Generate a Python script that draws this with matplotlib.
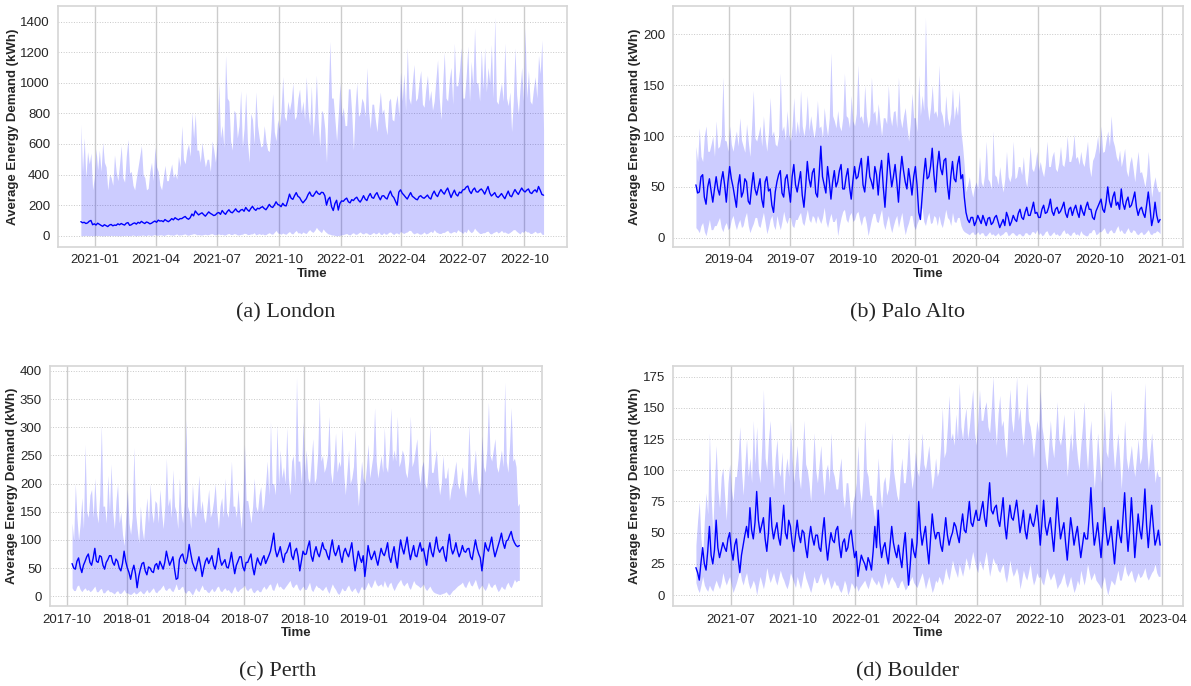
import matplotlib
matplotlib.use("Agg")
import matplotlib.pyplot as plt
import matplotlib.dates as mdates
import numpy as np
import pandas as pd
import seaborn as sns

# values, one sample every 2.5 days (one row ~ one month)
london_start = "2020-12-11"
london_mean = [92, 85, 88, 80, 84, 95, 100, 72, 78, 70, 82, 75,
               68, 62, 72, 66, 60, 70, 74, 65, 70, 68, 78, 72,
               80, 74, 70, 82, 86, 68, 72, 80, 84, 76, 88, 82,
               94, 86, 80, 90, 86, 78, 82, 90, 96, 88, 102, 96,
               98, 92, 106, 98, 92, 100, 112, 104, 118, 110, 104, 112,
               112, 120, 126, 114, 108, 118, 142, 130, 162, 148, 136, 144,
               150, 138, 128, 142, 156, 146, 140, 132, 136, 148, 152, 140,
               165, 150, 140, 158, 170, 155, 150, 162, 176, 160, 155, 168,
               172, 160, 185, 170, 160, 178, 192, 175, 166, 180, 176, 185,
               190, 178, 170, 186, 205, 190, 185, 200, 222, 205, 200, 190,
               212, 198, 195, 230, 272, 245, 238, 262, 282, 258, 250, 230,
               215, 228, 242, 268, 286, 262, 258, 275, 292, 276, 270, 284,
               282, 262, 200, 238, 252, 190, 165, 210, 232, 168, 212, 228,
               225, 238, 246, 222, 215, 236, 230, 244, 252, 232, 220, 238,
               262, 240, 230, 258, 276, 250, 245, 268, 282, 255, 235, 260,
               262, 248, 240, 270, 292, 262, 250, 225, 200, 285, 300, 278,
               266, 252, 240, 262, 282, 258, 250, 240, 235, 255, 262, 250,
               245, 255, 266, 248, 240, 272, 292, 268, 256, 282, 302, 285,
               272, 295, 312, 280, 250, 276, 298, 270, 260, 285, 280, 300,
               302, 318, 325, 292, 276, 300, 312, 288, 285, 298, 306, 292,
               272, 298, 322, 280, 260, 270, 282, 258, 250, 262, 276, 258,
               242, 268, 292, 262, 255, 280, 302, 284, 270, 292, 312, 295,
               286, 298, 306, 282, 276, 292, 300, 285, 322, 298, 270, 265]
london_high = [730, 420, 640, 380, 550, 470, 540, 300, 380, 570, 430, 560,
               420, 610, 480, 450, 300, 400, 380, 330, 530, 420, 360, 470,
               590, 380, 350, 520, 630, 410, 420, 330, 300, 380, 450, 520,
               590, 400, 380, 300, 310, 420, 480, 360, 580, 450, 420, 330,
               300, 380, 460, 360, 360, 420, 470, 380, 410, 370, 520, 450,
               720, 500, 470, 560, 600, 520, 810, 640, 800, 560, 560, 480,
               610, 520, 450, 500, 500, 420, 620, 560, 480, 620, 1000, 640,
               720, 580, 1180, 900, 880, 620, 560, 820, 800, 640, 720, 950,
               580, 700, 940, 620, 480, 800, 760, 600, 940, 720, 640, 580,
               590, 720, 620, 560, 550, 700, 930, 680, 620, 760, 700, 820,
               1040, 780, 750, 880, 820, 880, 1000, 760, 780, 900, 960, 800,
               880, 760, 1040, 820, 720, 980, 650, 800, 1050, 760, 580, 820,
               800, 700, 480, 880, 1270, 900, 900, 760, 620, 800, 1000, 780,
               840, 720, 720, 960, 960, 800, 560, 840, 1000, 780, 800, 900,
               870, 780, 1100, 820, 700, 860, 860, 760, 680, 820, 940, 800,
               830, 720, 660, 880, 900, 760, 750, 860, 920, 780, 1070, 880,
               1060, 820, 1230, 900, 860, 1000, 1120, 880, 900, 1000, 1080, 860,
               840, 960, 1050, 880, 950, 820, 880, 1020, 1150, 900, 760, 980,
               1200, 900, 880, 1020, 1100, 860, 1260, 980, 980, 1080, 1230, 900,
               900, 1040, 1240, 880, 1140, 980, 1360, 1000, 1000, 880, 1220, 960,
               1230, 940, 1100, 1000, 1250, 900, 1430, 880, 860, 940, 1000, 880,
               1260, 900, 850, 940, 680, 880, 1230, 920, 800, 960, 1100, 880,
               1360, 900, 1080, 880, 860, 960, 1040, 900, 1180, 1060, 1280, 690]
london_low = [2, 0, 1, 3, 0, 1, 2, 0, 0, 3, 1, 2,
              1, 0, 0, 2, 1, 0, 3, 0, 2, 1, 0, 1,
              0, 2, 1, 3, 0, 1, 2, 5, 1, 0, 3, 2,
              3, 5, 1, 2, 6, 3, 2, 5, 8, 3, 4, 6,
              6, 2, 4, 8, 10, 5, 6, 3, 8, 12, 4, 6,
              6, 10, 12, 5, 4, 8, 10, 14, 12, 6, 8, 5,
              5, 8, 10, 6, 8, 12, 14, 8, 6, 10, 12, 7,
              10, 5, 6, 12, 15, 8, 8, 14, 12, 6, 5, 9,
              10, 16, 15, 8, 8, 12, 12, 20, 6, 10, 14, 8,
              12, 6, 8, 15, 20, 12, 10, 22, 35, 18, 15, 10,
              18, 12, 10, 20, 28, 15, 12, 25, 35, 18, 20, 12,
              25, 18, 15, 30, 40, 28, 22, 35, 55, 40, 30, 20,
              45, 30, 20, 12, 10, 5, 5, 2, 0, 1, 3, 6,
              8, 12, 15, 8, 5, 15, 20, 10, 10, 18, 25, 15,
              12, 20, 18, 10, 8, 15, 22, 12, 15, 25, 10, 8,
              20, 10, 12, 22, 25, 15, 8, 18, 18, 10, 30, 20,
              15, 22, 25, 35, 35, 20, 12, 18, 20, 12, 10, 15,
              25, 12, 15, 22, 30, 20, 40, 25, 20, 15, 15, 22,
              22, 30, 35, 20, 18, 25, 28, 20, 40, 30, 25, 15,
              30, 20, 45, 30, 20, 28, 50, 35, 25, 15, 15, 20,
              20, 28, 30, 15, 12, 20, 25, 30, 18, 25, 35, 22,
              25, 18, 15, 22, 30, 40, 40, 28, 20, 12, 28, 22,
              35, 25, 25, 15, 15, 22, 30, 18, 20, 25, 10, 8]

palo_start = "2019-02-11"
palo_mean = [52, 44, 45, 60, 62, 40, 33, 50, 58, 46, 35, 48,
             60, 48, 42, 56, 65, 52, 35, 55, 70, 58, 50, 40,
             30, 52, 62, 40, 45, 58, 55, 36, 33, 50, 64, 48,
             42, 50, 58, 38, 30, 55, 60, 46, 48, 32, 25, 45,
             55, 62, 66, 44, 40, 58, 62, 48, 35, 60, 72, 52,
             45, 55, 65, 42, 30, 50, 75, 58, 50, 64, 68, 44,
             40, 62, 90, 60, 52, 44, 70, 56, 38, 55, 66, 50,
             55, 66, 72, 48, 48, 60, 68, 50, 38, 56, 70, 58,
             60, 70, 78, 52, 45, 62, 80, 60, 55, 48, 70, 62,
             42, 64, 76, 50, 30, 56, 83, 66, 50, 60, 72, 55,
             35, 62, 80, 66, 55, 48, 68, 56, 42, 60, 70, 52,
             25, 18, 40, 62, 78, 58, 60, 70, 88, 62, 45, 70,
             85, 68, 62, 76, 78, 52, 38, 60, 75, 58, 55, 72,
             80, 58, 62, 40, 25, 18, 15, 20, 20, 12, 16, 22,
             18, 14, 22, 17, 12, 19, 20, 13, 15, 20, 22, 16,
             10, 14, 18, 12, 25, 20, 12, 16, 22, 18, 16, 24,
             28, 20, 18, 25, 30, 22, 22, 28, 35, 24, 25, 20,
             20, 28, 32, 24, 25, 30, 38, 26, 22, 28, 30, 24,
             26, 30, 35, 24, 20, 28, 30, 22, 28, 32, 25, 20,
             32, 26, 22, 30, 35, 28, 28, 20, 18, 26, 30, 34,
             38, 28, 25, 35, 50, 36, 30, 40, 45, 32, 35, 28,
             48, 34, 28, 36, 40, 30, 32, 38, 45, 30, 22, 28,
             30, 24, 20, 32, 45, 30, 12, 20, 35, 22, 15, 18]
palo_high = [90, 75, 108, 80, 75, 100, 110, 85, 85, 92, 100, 80,
             115, 88, 90, 100, 158, 96, 95, 85, 110, 92, 85, 96,
             105, 90, 118, 96, 90, 84, 112, 95, 80, 110, 145, 98,
             95, 102, 110, 90, 120, 98, 85, 104, 138, 100, 105, 92,
             90, 100, 162, 105, 110, 96, 125, 102, 95, 110, 138, 100,
             115, 102, 145, 110, 100, 112, 140, 105, 120, 108, 98, 110,
             135, 108, 110, 98, 128, 112, 100, 118, 182, 120, 115, 108,
             125, 110, 105, 118, 162, 120, 118, 108, 140, 115, 110, 122,
             170, 118, 120, 112, 150, 120, 108, 116, 158, 122, 125, 110,
             132, 115, 100, 118, 118, 112, 150, 120, 110, 124, 125, 108,
             158, 118, 108, 120, 128, 110, 95, 112, 142, 118, 118, 104,
             160, 120, 140, 125, 217, 130, 115, 128, 150, 122, 125, 118,
             170, 125, 120, 108, 140, 118, 110, 122, 148, 116, 130, 120,
             145, 105, 90, 70, 45, 52, 60, 48, 40, 50, 55, 48,
             80, 55, 50, 62, 95, 58, 55, 48, 105, 62, 60, 52,
             70, 55, 45, 58, 85, 60, 55, 62, 95, 58, 60, 70,
             70, 62, 80, 58, 50, 66, 90, 68, 65, 72, 85, 66,
             75, 66, 60, 72, 95, 70, 70, 80, 85, 68, 65, 74,
             90, 72, 70, 80, 100, 75, 75, 82, 102, 78, 80, 72,
             85, 74, 70, 82, 95, 70, 60, 76, 80, 88, 100, 82,
             110, 84, 85, 96, 105, 90, 120, 96, 90, 80, 75, 86,
             70, 78, 88, 66, 60, 74, 80, 68, 55, 72, 85, 64,
             65, 58, 50, 62, 85, 60, 40, 52, 60, 50, 45, 46]
palo_low = [10, 8, 5, 12, 15, 6, 2, 10, 18, 8, 8, 12,
            12, 16, 20, 10, 6, 12, 15, 8, 10, 18, 22, 14,
            8, 14, 18, 10, 12, 20, 25, 12, 5, 10, 14, 20,
            20, 12, 10, 18, 25, 15, 4, 10, 18, 22, 12, 8,
            22, 14, 8, 16, 26, 18, 14, 20, 20, 12, 10, 18,
            18, 22, 25, 15, 12, 20, 28, 18, 15, 22, 20, 14,
            22, 18, 14, 20, 30, 16, 10, 18, 24, 16, 16, 20,
            2, 12, 20, 26, 28, 18, 15, 22, 25, 16, 18, 24,
            26, 18, 12, 20, 22, 14, 2, 10, 18, 24, 24, 16,
            15, 22, 28, 14, 8, 16, 22, 12, 5, 12, 18, 22,
            10, 18, 25, 12, 3, 10, 15, 22, 22, 12, 8, 14,
            18, 24, 30, 16, 12, 20, 25, 14, 15, 22, 20, 12,
            22, 14, 10, 18, 28, 20, 18, 12, 25, 16, 15, 20,
            20, 12, 8, 6, 5, 4, 3, 5, 6, 3, 4, 6,
            3, 5, 5, 2, 2, 4, 6, 3, 4, 2, 3, 5,
            2, 3, 4, 6, 6, 2, 3, 5, 5, 3, 2, 4,
            4, 2, 2, 5, 5, 3, 3, 6, 6, 4, 8, 3,
            5, 2, 3, 6, 7, 3, 2, 4, 6, 3, 4, 2,
            3, 6, 8, 4, 5, 3, 2, 5, 6, 3, 4, 2,
            7, 4, 3, 2, 2, 5, 5, 8, 8, 3, 4, 6,
            6, 8, 10, 5, 4, 7, 8, 5, 5, 9, 12, 6,
            8, 5, 4, 7, 10, 6, 5, 8, 7, 4, 3, 5,
            6, 3, 4, 6, 8, 4, 3, 5, 5, 7, 6, 4]

perth_start = "2017-10-09"
perth_mean = [58, 50, 48, 62, 68, 52, 42, 55, 62, 70, 75, 60,
              55, 68, 85, 62, 60, 72, 70, 55, 48, 60, 65, 72,
              72, 60, 55, 66, 62, 50, 45, 58, 80, 62, 50, 42,
              30, 45, 55, 40, 15, 35, 48, 58, 60, 45, 38, 52,
              50, 44, 42, 55, 58, 48, 62, 55, 48, 60, 80, 66,
              55, 62, 70, 48, 30, 32, 65, 72, 75, 62, 58, 70,
              92, 75, 60, 52, 45, 58, 70, 55, 35, 50, 62, 68,
              58, 65, 72, 55, 48, 62, 85, 66, 55, 60, 65, 52,
              50, 62, 78, 58, 40, 55, 62, 70, 70, 52, 45, 60,
              60, 68, 75, 52, 38, 55, 68, 60, 55, 66, 72, 58,
              65, 72, 80, 95, 112, 82, 70, 78, 88, 72, 60, 75,
              78, 86, 95, 72, 65, 80, 85, 70, 45, 62, 80, 74,
              75, 88, 98, 72, 62, 78, 88, 76, 70, 82, 95, 84,
              82, 72, 65, 85, 100, 80, 72, 80, 90, 72, 60, 78,
              85, 76, 70, 82, 95, 68, 45, 62, 80, 68, 60, 72,
              35, 60, 90, 75, 65, 72, 80, 66, 55, 70, 85, 76,
              72, 82, 95, 70, 60, 76, 88, 65, 50, 78, 100, 85,
              75, 90, 105, 82, 65, 78, 90, 72, 70, 84, 95, 80,
              85, 70, 55, 80, 95, 78, 70, 88, 105, 85, 78, 84,
              88, 72, 62, 90, 110, 86, 75, 82, 95, 80, 70, 78,
              90, 80, 78, 84, 85, 70, 65, 82, 100, 85, 75, 68,
              45, 70, 95, 85, 80, 92, 105, 85, 70, 80, 90, 100,
              112, 95, 85, 98, 100, 108, 115, 102, 95, 90, 88, 90]
perth_high = [130, 100, 200, 140, 100, 130, 175, 120, 270, 150, 140, 180,
              190, 140, 210, 150, 130, 180, 305, 160, 160, 130, 215, 150,
              235, 150, 120, 170, 200, 130, 150, 110, 90, 140, 190, 130,
              110, 140, 265, 150, 120, 95, 160, 120, 100, 140, 175, 130,
              200, 150, 130, 170, 165, 130, 190, 150, 120, 160, 245, 160,
              175, 140, 225, 160, 150, 120, 210, 150, 130, 170, 315, 160,
              150, 120, 200, 150, 140, 170, 215, 150, 170, 140, 130, 160,
              190, 140, 150, 170, 200, 150, 120, 160, 175, 140, 210, 150,
              140, 180, 240, 160, 160, 140, 190, 150, 120, 170, 270, 170,
              170, 150, 130, 160, 210, 160, 150, 180, 195, 150, 165, 200,
              240, 180, 310, 200, 200, 180, 305, 200, 260, 210, 230, 200,
              300, 210, 180, 240, 250, 200, 390, 240, 240, 200, 310, 220,
              260, 210, 200, 240, 280, 200, 210, 250, 355, 240, 250, 220,
              230, 250, 320, 220, 200, 240, 290, 220, 240, 230, 300, 220,
              180, 220, 260, 200, 210, 230, 295, 210, 160, 200, 240, 210,
              200, 230, 270, 210, 230, 250, 335, 240, 210, 230, 250, 220,
              300, 230, 220, 260, 335, 240, 260, 240, 320, 230, 240, 260,
              250, 220, 210, 240, 320, 230, 240, 260, 280, 220, 200, 230,
              240, 200, 190, 230, 305, 220, 220, 240, 260, 210, 180, 200,
              250, 210, 210, 230, 170, 190, 200, 220, 240, 200, 190, 210,
              230, 190, 175, 210, 305, 220, 200, 230, 260, 210, 180, 200,
              285, 230, 220, 260, 345, 250, 240, 260, 280, 230, 220, 240,
              260, 230, 380, 240, 220, 270, 335, 240, 245, 230, 160, 165]
perth_low = [15, 10, 10, 18, 20, 12, 8, 12, 15, 10, 12, 8,
             10, 14, 18, 8, 8, 12, 14, 6, 6, 10, 12, 8,
             8, 6, 4, 8, 10, 5, 5, 8, 12, 6, 6, 4,
             3, 5, 8, 4, 5, 8, 10, 6, 4, 8, 12, 6,
             8, 12, 15, 8, 6, 10, 12, 16, 20, 12, 10, 14,
             15, 10, 8, 14, 22, 12, 12, 16, 18, 8, 5, 10,
             10, 6, 2, 8, 15, 10, 8, 14, 20, 12, 12, 8,
             6, 10, 14, 8, 10, 16, 18, 10, 8, 12, 15, 10,
             12, 8, 5, 12, 18, 10, 8, 12, 14, 16, 20, 12,
             10, 14, 15, 8, 6, 10, 12, 8, 8, 14, 18, 12,
             15, 20, 22, 12, 10, 18, 25, 16, 18, 14, 12, 16,
             20, 24, 28, 18, 15, 20, 22, 14, 10, 14, 18, 12,
             12, 18, 25, 12, 8, 14, 20, 16, 15, 12, 10, 14,
             18, 10, 5, 14, 22, 16, 12, 6, 3, 8, 15, 10,
             10, 16, 20, 12, 8, 12, 15, 8, 5, 12, 18, 12,
             12, 18, 25, 18, 15, 22, 30, 22, 18, 20, 22, 16,
             28, 20, 15, 22, 25, 16, 10, 16, 22, 26, 30, 22,
             18, 22, 25, 16, 12, 20, 28, 22, 20, 18, 15, 18,
             22, 14, 10, 14, 18, 12, 8, 6, 5, 4, 3, 4,
             5, 6, 8, 4, 2, 6, 10, 12, 15, 18, 20, 22,
             25, 18, 15, 22, 28, 20, 18, 24, 30, 20, 12, 16,
             20, 14, 10, 16, 25, 18, 15, 20, 22, 14, 8, 12,
             18, 14, 12, 20, 25, 18, 15, 22, 30, 25, 28, 28]

boulder_start = "2021-05-10"
boulder_mean = [22, 18, 12, 26, 38, 25, 20, 35, 55, 32, 25, 36,
                60, 38, 30, 36, 42, 38, 35, 45, 50, 36, 28, 40,
                45, 30, 18, 32, 40, 48, 55, 46, 70, 52, 45, 58,
                83, 60, 50, 56, 62, 45, 35, 50, 78, 55, 45, 52,
                58, 46, 40, 55, 72, 50, 45, 60, 55, 42, 35, 48,
                60, 48, 42, 52, 50, 38, 30, 45, 55, 46, 40, 48,
                48, 38, 35, 50, 62, 42, 28, 40, 50, 44, 42, 52,
                55, 40, 30, 42, 45, 35, 38, 48, 52, 40, 30, 35,
                15, 24, 32, 28, 25, 20, 30, 26, 20, 35, 55, 38,
                68, 42, 30, 38, 42, 32, 25, 40, 55, 42, 35, 30,
                40, 30, 22, 38, 50, 28, 8, 25, 45, 35, 30, 42,
                75, 52, 40, 48, 55, 38, 25, 45, 65, 52, 45, 50,
                50, 40, 35, 48, 62, 48, 40, 46, 50, 58, 55, 48,
                42, 55, 65, 52, 50, 62, 75, 58, 55, 62, 68, 60,
                60, 68, 75, 62, 55, 72, 90, 68, 65, 70, 72, 60,
                55, 66, 78, 56, 45, 60, 72, 62, 60, 68, 76, 64,
                50, 58, 68, 52, 45, 56, 65, 58, 55, 62, 72, 58,
                40, 58, 76, 55, 48, 56, 62, 48, 35, 55, 78, 60,
                45, 52, 58, 42, 28, 45, 62, 52, 40, 48, 55, 42,
                30, 40, 50, 45, 45, 62, 86, 58, 40, 48, 58, 44,
                30, 48, 70, 52, 40, 46, 55, 40, 25, 42, 60, 48,
                42, 62, 82, 55, 35, 52, 78, 56, 30, 48, 65, 52,
                45, 62, 85, 56, 38, 55, 72, 55, 40, 45, 52, 40]
boulder_high = [40, 60, 75, 45, 30, 60, 82, 65, 130, 80, 50, 90,
                120, 85, 70, 95, 102, 80, 60, 90, 105, 85, 75, 95,
                95, 110, 135, 100, 80, 105, 125, 95, 110, 90, 140, 105,
                135, 100, 90, 120, 165, 110, 100, 125, 140, 105, 85, 110,
                125, 100, 95, 115, 80, 100, 110, 95, 140, 110, 90, 105,
                120, 95, 85, 110, 140, 105, 100, 90, 75, 100, 130, 100,
                90, 105, 120, 95, 80, 100, 105, 90, 130, 100, 95, 85,
                85, 100, 110, 80, 70, 90, 90, 75, 60, 75, 80, 90,
                120, 85, 75, 95, 140, 100, 95, 80, 80, 70, 60, 85,
                110, 85, 70, 90, 95, 80, 85, 100, 130, 100, 90, 80,
                75, 95, 110, 90, 90, 105, 130, 100, 85, 95, 115, 100,
                95, 110, 130, 105, 100, 110, 120, 100, 85, 95, 110, 95,
                100, 120, 150, 110, 115, 135, 160, 125, 130, 120, 145, 125,
                170, 135, 125, 140, 150, 125, 135, 150, 165, 130, 120, 140,
                165, 140, 140, 150, 155, 135, 130, 150, 175, 140, 120, 145,
                160, 135, 140, 120, 110, 140, 165, 140, 130, 150, 175, 140,
                150, 130, 120, 140, 170, 140, 135, 125, 110, 125, 140, 130,
                165, 135, 125, 110, 100, 120, 140, 120, 110, 130, 155, 125,
                120, 130, 145, 120, 95, 115, 130, 115, 150, 125, 110, 100,
                120, 135, 155, 120, 100, 125, 140, 110, 85, 105, 130, 110,
                90, 120, 150, 115, 110, 135, 165, 120, 100, 115, 130, 110,
                85, 110, 140, 110, 100, 110, 120, 105, 95, 110, 125, 105,
                110, 135, 170, 120, 100, 115, 130, 110, 90, 100, 95, 95]
boulder_low = [10, 5, 2, 8, 15, 8, 5, 3, 8, 5, 3, 8,
               12, 8, 5, 10, 18, 12, 8, 12, 15, 8, 2, 6,
               10, 15, 20, 12, 8, 14, 18, 10, 5, 8, 12, 8,
               0, 8, 15, 10, 5, 12, 22, 15, 10, 14, 18, 12,
               8, 14, 20, 15, 12, 8, 5, 10, 18, 14, 10, 6,
               15, 10, 5, 12, 20, 14, 10, 6, 2, 8, 15, 10,
               10, 14, 18, 12, 8, 12, 15, 10, 5, 8, 12, 8,
               8, 4, 2, 6, 12, 8, 0, 4, 10, 8, 5, 8,
               3, 6, 8, 10, 12, 8, 5, 10, 15, 12, 10, 8,
               12, 8, 5, 10, 18, 12, 8, 12, 15, 12, 10, 6,
               6, 10, 12, 8, 4, 6, 10, 12, 15, 10, 8, 6,
               10, 14, 18, 12, 5, 10, 15, 8, 2, 6, 12, 10,
               15, 12, 8, 14, 22, 16, 12, 20, 28, 22, 18, 14,
               25, 20, 15, 22, 30, 25, 20, 28, 35, 28, 22, 18,
               28, 24, 20, 28, 35, 25, 15, 22, 30, 26, 25, 20,
               18, 22, 25, 15, 10, 18, 28, 20, 15, 18, 22, 16,
               5, 12, 20, 15, 12, 18, 25, 15, 8, 12, 18, 14,
               15, 10, 8, 15, 22, 16, 12, 15, 18, 12, 5, 8,
               10, 14, 18, 10, 6, 10, 15, 8, 2, 6, 12, 8,
               20, 14, 8, 15, 25, 18, 12, 15, 18, 12, 10, 8,
               5, 10, 15, 6, 0, 6, 12, 10, 8, 14, 20, 12,
               12, 18, 25, 18, 15, 18, 20, 14, 10, 14, 18, 14,
               15, 18, 22, 15, 12, 15, 18, 20, 25, 18, 15, 15]

sns.set_style("whitegrid")
plt.rcParams['font.family'] = ['Liberation Sans', 'DejaVu Sans']

fig = plt.figure(figsize=(11.91, 6.86), dpi=100)

panels = [
    (london_start, london_mean, london_low, london_high,
     [0.04845, 0.64038, 0.42737, 0.35087], "(a) London", (0.240, 0.5437)),
    (palo_start, palo_mean, palo_low, palo_high,
     [0.56482, 0.64038, 0.42872, 0.35087], "(b) Palo Alto", (0.762, 0.5437)),
    (perth_start, perth_mean, perth_low, perth_high,
     [0.04173, 0.11662, 0.41310, 0.35029], "(c) Perth", (0.233, 0.0204)),
    (boulder_start, boulder_mean, boulder_low, boulder_high,
     [0.56482, 0.11662, 0.42872, 0.35029], "(d) Boulder", (0.762, 0.0204)),
]

for start, mean, low, high, pos, caption, cpos in panels:
    t = pd.date_range(start, periods=len(mean), freq="60h")
    ax = fig.add_axes(pos)
    ax.fill_between(t, low, high, color="blue", alpha=0.2, linewidth=0)
    ax.plot(t, mean, color="blue", lw=1.0)
    ax.xaxis.set_major_locator(mdates.MonthLocator(bymonth=[1, 4, 7, 10]))
    ax.xaxis.set_major_formatter(mdates.DateFormatter("%Y-%m"))
    ax.grid(axis="x", color="#cccccc", lw=1.0, ls="-")
    ax.grid(axis="y", color="#c8c8c8", lw=0.7, ls=":")
    for s in ax.spines.values():
        s.set_color("#d6d6d6")
        s.set_linewidth(1.2)
    ax.tick_params(labelsize=9.5, colors="#262626", pad=2)
    ax.set_xlabel("Time", fontsize=9.5, fontweight="bold", labelpad=1)
    ax.set_ylabel("Average Energy Demand (kWh)", fontsize=9.5,
                  fontweight="bold", labelpad=1)
    fig.text(cpos[0], cpos[1], caption, ha="center", va="center",
             fontsize=16, family=["Liberation Serif", "DejaVu Serif"])

fig.savefig("out.png", dpi=100)
